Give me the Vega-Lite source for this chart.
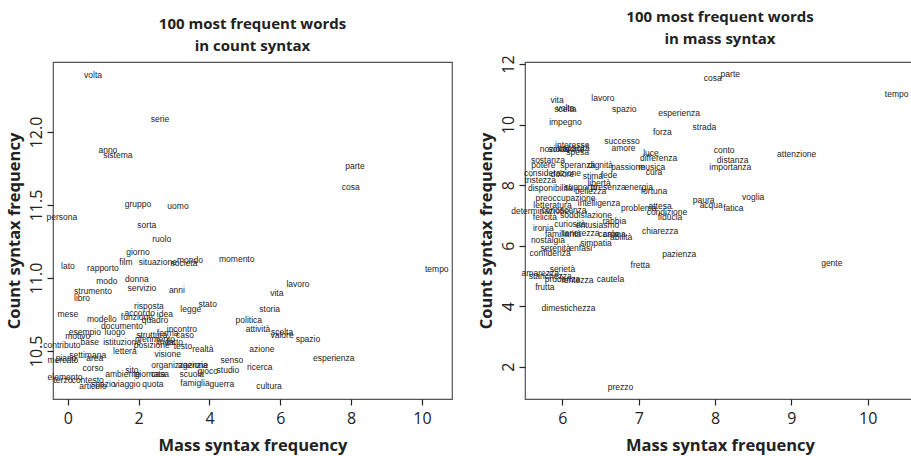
{
  "$schema": "https://vega.github.io/schema/vega-lite/v6.json",
  "padding": {"left": 5, "right": 0, "top": 9, "bottom": 0},
  "background": "white",
  "config": {
    "view": {"stroke": "#555", "strokeWidth": 1.2},
    "axis": {"grid": false, "domain": false, "tickColor": "#222", "tickSize": 6, "tickWidth": 1.2,
      "labelFont": "Open Sans", "labelFontSize": 16, "labelColor": "#222",
      "titleFont": "Open Sans", "titleFontSize": 16.5, "titleFontWeight": "bold", "titleColor": "#222"},
    "axisX": {"labelPadding": 5},
    "axisY": {"labelAngle": -90, "labelAlign": "center", "labelBaseline": "bottom", "labelPadding": 3},
    "title": {"font": "Open Sans", "fontSize": 15, "fontWeight": "bold", "color": "#222", "anchor": "middle", "lineHeight": 22}
  },
  "datasets": {
    "count": [
      {"w": "volta", "m": 0.71, "c": 12.39}, {"w": "serie", "m": 2.6, "c": 12.09}, {"w": "anno", "m": 1.13, "c": 11.88},
      {"w": "sistema", "m": 1.41, "c": 11.84}, {"w": "gruppo", "m": 1.98, "c": 11.51}, {"w": "uomo", "m": 3.11, "c": 11.49},
      {"w": "persona", "m": -0.17, "c": 11.42}, {"w": "sorta", "m": 2.23, "c": 11.36}, {"w": "parte", "m": 8.11, "c": 11.77},
      {"w": "cosa", "m": 7.99, "c": 11.62}, {"w": "ruolo", "m": 2.65, "c": 11.27}, {"w": "giorno", "m": 1.98, "c": 11.18},
      {"w": "lato", "m": 0.0, "c": 11.08}, {"w": "rapporto", "m": 0.99, "c": 11.07}, {"w": "film", "m": 1.64, "c": 11.11},
      {"w": "situazione", "m": 2.54, "c": 11.11}, {"w": "società", "m": 3.28, "c": 11.1}, {"w": "mondo", "m": 3.45, "c": 11.12},
      {"w": "momento", "m": 4.77, "c": 11.13}, {"w": "modo", "m": 1.1, "c": 10.98}, {"w": "donna", "m": 1.95, "c": 10.99},
      {"w": "servizio", "m": 2.09, "c": 10.93}, {"w": "anni", "m": 3.08, "c": 10.92}, {"w": "strumento", "m": 0.71, "c": 10.91},
      {"w": "libro", "m": 0.4, "c": 10.86}, {"w": "risposta", "m": 2.29, "c": 10.81}, {"w": "legge", "m": 3.47, "c": 10.79},
      {"w": "stato", "m": 3.95, "c": 10.82}, {"w": "mese", "m": 0.0, "c": 10.75}, {"w": "modello", "m": 0.96, "c": 10.72},
      {"w": "accordo", "m": 2.03, "c": 10.76}, {"w": "funzione", "m": 1.95, "c": 10.73}, {"w": "quadro", "m": 2.46, "c": 10.71},
      {"w": "idea", "m": 2.74, "c": 10.75}, {"w": "documento", "m": 1.53, "c": 10.67}, {"w": "incontro", "m": 3.22, "c": 10.65},
      {"w": "esempio", "m": 0.48, "c": 10.63}, {"w": "luogo", "m": 1.33, "c": 10.63}, {"w": "motivo", "m": 0.28, "c": 10.6},
      {"w": "base", "m": 0.62, "c": 10.56}, {"w": "istituzione", "m": 1.53, "c": 10.56}, {"w": "contributo", "m": -0.17, "c": 10.54},
      {"w": "struttura", "m": 2.37, "c": 10.61}, {"w": "forma", "m": 2.82, "c": 10.62}, {"w": "caso", "m": 3.31, "c": 10.61},
      {"w": "riferimento", "m": 2.46, "c": 10.58}, {"w": "linea", "m": 2.74, "c": 10.56}, {"w": "fatto", "m": 3.02, "c": 10.56},
      {"w": "posizione", "m": 2.37, "c": 10.54}, {"w": "testo", "m": 3.25, "c": 10.53}, {"w": "realtà", "m": 3.81, "c": 10.51},
      {"w": "settimana", "m": 0.56, "c": 10.47}, {"w": "area", "m": 0.76, "c": 10.45}, {"w": "lettera", "m": 1.61, "c": 10.5},
      {"w": "visione", "m": 2.82, "c": 10.48}, {"w": "mercato", "m": -0.14, "c": 10.44}, {"w": "piano", "m": -0.05, "c": 10.45},
      {"w": "corso", "m": 0.71, "c": 10.38}, {"w": "ambiente", "m": 1.55, "c": 10.34}, {"w": "sito", "m": 1.81, "c": 10.37},
      {"w": "giornata", "m": 2.32, "c": 10.34}, {"w": "casa", "m": 2.6, "c": 10.34}, {"w": "organizzazione", "m": 3.16, "c": 10.4},
      {"w": "agenzia", "m": 3.53, "c": 10.4}, {"w": "scuola", "m": 3.5, "c": 10.34}, {"w": "gioco", "m": 3.95, "c": 10.36},
      {"w": "studio", "m": 4.52, "c": 10.37}, {"w": "senso", "m": 4.63, "c": 10.44}, {"w": "elemento", "m": -0.08, "c": 10.32},
      {"w": "terzo", "m": -0.14, "c": 10.3}, {"w": "contesto", "m": 0.56, "c": 10.3}, {"w": "articolo", "m": 0.71, "c": 10.26},
      {"w": "spazio", "m": 1.0, "c": 10.27}, {"w": "viaggio", "m": 1.67, "c": 10.27}, {"w": "quota", "m": 2.4, "c": 10.27},
      {"w": "famiglia", "m": 3.59, "c": 10.28}, {"w": "guerra", "m": 4.35, "c": 10.27}, {"w": "tempo", "m": 10.42, "c": 11.06},
      {"w": "lavoro", "m": 6.5, "c": 10.96}, {"w": "vita", "m": 5.9, "c": 10.9}, {"w": "storia", "m": 5.7, "c": 10.79},
      {"w": "politica", "m": 5.11, "c": 10.71}, {"w": "attività", "m": 5.37, "c": 10.65}, {"w": "scelta", "m": 6.05, "c": 10.63},
      {"w": "valore", "m": 6.05, "c": 10.61}, {"w": "spazio", "m": 6.78, "c": 10.58}, {"w": "azione", "m": 5.48, "c": 10.51},
      {"w": "esperienza", "m": 7.51, "c": 10.45}, {"w": "ricerca", "m": 5.42, "c": 10.39}, {"w": "cultura", "m": 5.68, "c": 10.26}
    ],
    "mass": [
      {"w": "cosa", "m": 7.97, "c": 11.53}, {"w": "parte", "m": 8.2, "c": 11.67}, {"w": "tempo", "m": 10.38, "c": 11.0},
      {"w": "vita", "m": 5.93, "c": 10.8}, {"w": "lavoro", "m": 6.53, "c": 10.87}, {"w": "scelta", "m": 6.04, "c": 10.53},
      {"w": "volta", "m": 6.04, "c": 10.55}, {"w": "spazio", "m": 6.81, "c": 10.5}, {"w": "esperienza", "m": 7.53, "c": 10.4},
      {"w": "impegno", "m": 6.04, "c": 10.1}, {"w": "strada", "m": 7.86, "c": 9.93}, {"w": "forza", "m": 7.31, "c": 9.77},
      {"w": "successo", "m": 6.78, "c": 9.47}, {"w": "amore", "m": 6.8, "c": 9.23}, {"w": "interesse", "m": 6.13, "c": 9.33},
      {"w": "nozione", "m": 5.9, "c": 9.2}, {"w": "soluzione", "m": 6.05, "c": 9.2}, {"w": "capacità", "m": 6.15, "c": 9.22},
      {"w": "spesa", "m": 6.2, "c": 9.1}, {"w": "luce", "m": 7.16, "c": 9.07}, {"w": "differenza", "m": 7.26, "c": 8.9},
      {"w": "conto", "m": 8.12, "c": 9.17}, {"w": "distanza", "m": 8.23, "c": 8.83}, {"w": "importanza", "m": 8.2, "c": 8.6},
      {"w": "attenzione", "m": 9.07, "c": 9.03}, {"w": "sostanza", "m": 5.81, "c": 8.83}, {"w": "potere", "m": 5.75, "c": 8.67},
      {"w": "speranza", "m": 6.2, "c": 8.67}, {"w": "dignità", "m": 6.5, "c": 8.65}, {"w": "passione", "m": 6.86, "c": 8.6},
      {"w": "musica", "m": 7.17, "c": 8.6}, {"w": "cura", "m": 7.2, "c": 8.43}, {"w": "considerazione", "m": 5.87, "c": 8.4},
      {"w": "dolore", "m": 6.0, "c": 8.37}, {"w": "stima", "m": 6.4, "c": 8.3}, {"w": "fede", "m": 6.61, "c": 8.33},
      {"w": "tristezza", "m": 5.71, "c": 8.17}, {"w": "libertà", "m": 6.48, "c": 8.07}, {"w": "disponibilità", "m": 5.84, "c": 7.9},
      {"w": "bellezza", "m": 6.37, "c": 7.8}, {"w": "supporto", "m": 6.24, "c": 7.93}, {"w": "presenza", "m": 6.6, "c": 7.93},
      {"w": "energia", "m": 7.0, "c": 7.93}, {"w": "fortuna", "m": 7.2, "c": 7.8}, {"w": "preoccupazione", "m": 6.04, "c": 7.57},
      {"w": "intelligenza", "m": 6.48, "c": 7.4}, {"w": "letteratura", "m": 5.87, "c": 7.33}, {"w": "determinazione", "m": 5.71, "c": 7.13},
      {"w": "conoscenza", "m": 6.02, "c": 7.18}, {"w": "problema", "m": 7.0, "c": 7.23}, {"w": "attesa", "m": 7.28, "c": 7.3},
      {"w": "condizione", "m": 7.37, "c": 7.1}, {"w": "fiducia", "m": 7.41, "c": 6.93}, {"w": "soddisfazione", "m": 6.31, "c": 7.0},
      {"w": "rabbia", "m": 6.68, "c": 6.83}, {"w": "felicità", "m": 5.77, "c": 6.93}, {"w": "paura", "m": 7.85, "c": 7.5},
      {"w": "acqua", "m": 7.95, "c": 7.33}, {"w": "fatica", "m": 8.24, "c": 7.23}, {"w": "voglia", "m": 8.5, "c": 7.6},
      {"w": "entusiasmo", "m": 6.46, "c": 6.67}, {"w": "ironia", "m": 5.75, "c": 6.57}, {"w": "tenerezza", "m": 6.24, "c": 6.43},
      {"w": "curiosità", "m": 6.1, "c": 6.7}, {"w": "familiarità", "m": 6.01, "c": 6.4}, {"w": "calma", "m": 6.68, "c": 6.37},
      {"w": "carne", "m": 6.61, "c": 6.4}, {"w": "abilità", "m": 6.77, "c": 6.3}, {"w": "chiarezza", "m": 7.28, "c": 6.47},
      {"w": "nostalgia", "m": 5.81, "c": 6.17}, {"w": "simpatia", "m": 6.44, "c": 6.1}, {"w": "serenità", "m": 5.91, "c": 5.93},
      {"w": "enfasi", "m": 6.24, "c": 5.93}, {"w": "confidenza", "m": 5.84, "c": 5.77}, {"w": "pazienza", "m": 7.53, "c": 5.73},
      {"w": "gente", "m": 9.53, "c": 5.43}, {"w": "fretta", "m": 7.02, "c": 5.37}, {"w": "cautela", "m": 6.63, "c": 4.9},
      {"w": "serietà", "m": 6.0, "c": 5.23}, {"w": "amarezza", "m": 5.71, "c": 5.1}, {"w": "stanchezza", "m": 5.84, "c": 5.0},
      {"w": "prudenza", "m": 6.0, "c": 4.9}, {"w": "lentezza", "m": 6.2, "c": 4.87}, {"w": "frutta", "m": 5.77, "c": 4.63},
      {"w": "dimestichezza", "m": 6.08, "c": 3.93}, {"w": "prezzo", "m": 6.76, "c": 1.33}
    ]
  },
  "hconcat": [
    {
      "width": 399, "height": 337,
      "title": {"text": ["100 most frequent words", "in count syntax"], "offset": 8},
      "data": {"name": "count"},
      "mark": {"type": "text", "font": "Liberation Sans", "fontSize": 8.5, "color": "#222"},
      "encoding": {
        "x": {"field": "m", "type": "quantitative", "title": "Mass syntax frequency",
          "scale": {"domain": [-0.42, 10.85], "nice": false, "zero": false},
          "axis": {"values": [0, 2, 4, 6, 8, 10], "titlePadding": 11}},
        "y": {"field": "c", "type": "quantitative", "title": "Count syntax frequency",
          "scale": {"domain": [10.17, 12.48], "nice": false, "zero": false},
          "axis": {"values": [10.5, 11, 11.5, 12], "format": ".1f", "titlePadding": 6}},
        "text": {"field": "w"}
      }
    },
    {
      "width": 390, "height": 337,
      "title": {"text": ["100 most frequent words", "in mass syntax"], "offset": 8},
      "data": {"name": "mass"},
      "mark": {"type": "text", "font": "Liberation Sans", "fontSize": 8.5, "color": "#222"},
      "encoding": {
        "x": {"field": "m", "type": "quantitative", "title": "Mass syntax frequency",
          "scale": {"domain": [5.51, 10.62], "nice": false, "zero": false},
          "axis": {"values": [6, 7, 8, 9, 10], "titlePadding": 11}},
        "y": {"field": "c", "type": "quantitative", "title": "Count syntax frequency",
          "scale": {"domain": [0.93, 12.07], "nice": false, "zero": false},
          "axis": {"values": [2, 4, 6, 8, 10, 12], "titlePadding": 6}},
        "text": {"field": "w"}
      }
    }
  ],
  "spacing": 24
}
